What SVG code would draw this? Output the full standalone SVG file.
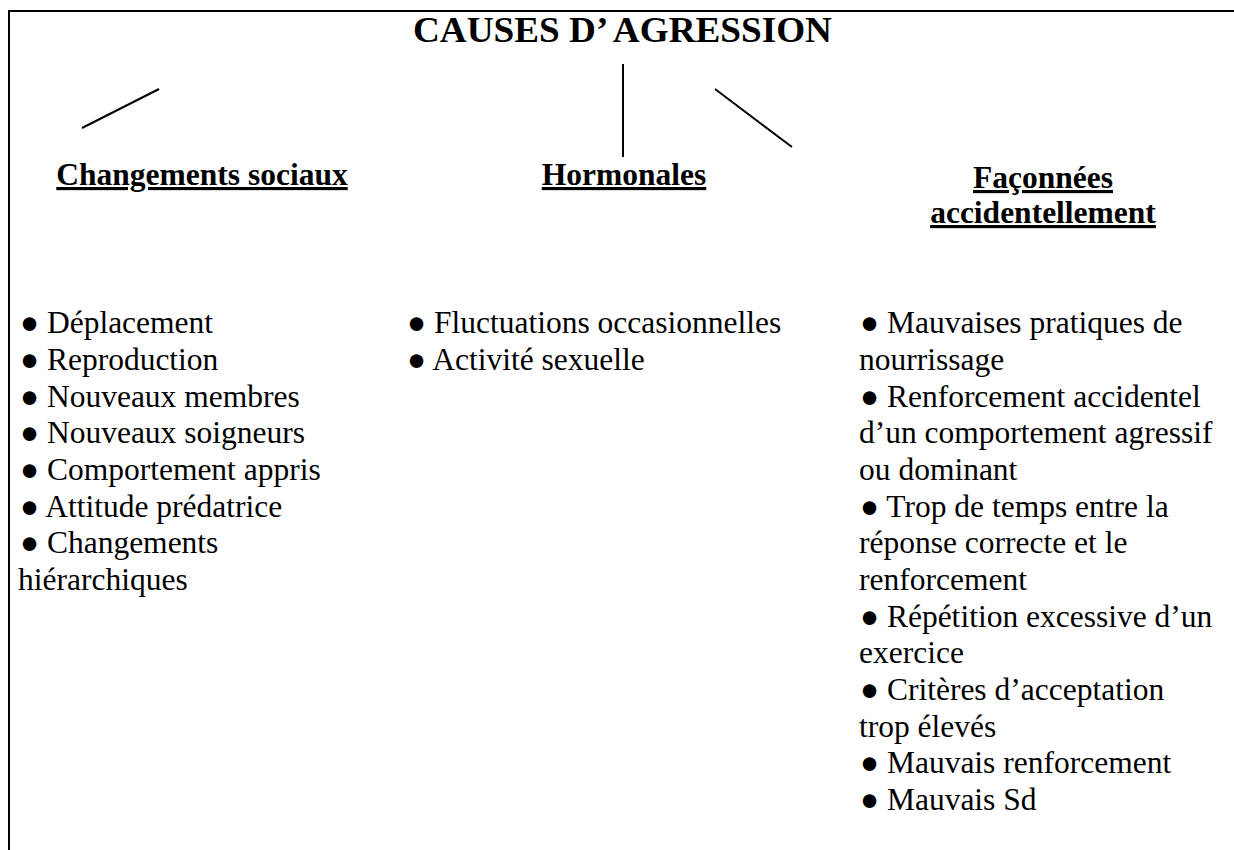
<svg xmlns="http://www.w3.org/2000/svg" width="1234" height="850" viewBox="0 0 1234 850">
<style>
text{font-family:"Liberation Serif","Times New Roman",serif;fill:#000}
.title{font-size:36px;font-weight:bold}
.head{font-size:31.5px;font-weight:bold;text-decoration:underline}
.body{font-size:31.5px}
.ln{stroke:#000;stroke-width:2;fill:none}
</style>
<rect width="1234" height="850" fill="#fff"/>
<g id="frame">
<line class="ln" x1="9" y1="11" x2="1234" y2="11"/>
<line class="ln" x1="9" y1="10" x2="9" y2="850"/>
</g>
<g id="root"><text class="title" x="413" y="42" textLength="419" lengthAdjust="spacingAndGlyphs">CAUSES D’ AGRESSION</text></g>
<g id="connectors">
<line class="ln" x1="82" y1="128" x2="159" y2="89"/>
<line class="ln" x1="623" y1="64" x2="623" y2="157"/>
<line class="ln" x1="715" y1="89" x2="792" y2="147"/>
</g>
<g id="social">
<text class="head" x="202" y="185" text-anchor="middle">Changements sociaux</text>
<text class="body" x="20" y="333">● Déplacement</text>
<text class="body" x="20" y="370">● Reproduction</text>
<text class="body" x="20" y="406.7">● Nouveaux membres</text>
<text class="body" x="20" y="443.3">● Nouveaux soigneurs</text>
<text class="body" x="20" y="480">● Comportement appris</text>
<text class="body" x="20" y="516.7">● Attitude prédatrice</text>
<text class="body" x="20" y="553.3">● Changements</text>
<text class="body" x="18" y="590">hiérarchiques</text>
</g>
<g id="hormonal">
<text class="head" x="624" y="185" text-anchor="middle">Hormonales</text>
<text class="body" x="407" y="333">● Fluctuations occasionnelles</text>
<text class="body" x="407" y="370">● Activité sexuelle</text>
</g>
<g id="shaped">
<text class="head" x="1043" y="188" text-anchor="middle">Façonnées</text>
<text class="head" x="1043" y="223" text-anchor="middle">accidentellement</text>
<text class="body" x="860" y="333">● Mauvaises pratiques de</text>
<text class="body" x="859" y="370">nourrissage</text>
<text class="body" x="860" y="406.7">● Renforcement accidentel</text>
<text class="body" x="859" y="443.3">d’un comportement agressif</text>
<text class="body" x="859" y="480">ou dominant</text>
<text class="body" x="860" y="516.7">● Trop de temps entre la</text>
<text class="body" x="859" y="553.3">réponse correcte et le</text>
<text class="body" x="859" y="590">renforcement</text>
<text class="body" x="860" y="626.7">● Répétition excessive d’un</text>
<text class="body" x="859" y="663.3">exercice</text>
<text class="body" x="860" y="700">● Critères d’acceptation</text>
<text class="body" x="859" y="736.7">trop élevés</text>
<text class="body" x="860" y="773.3">● Mauvais renforcement</text>
<text class="body" x="860" y="810">● Mauvais Sd</text>
</g>
</svg>
